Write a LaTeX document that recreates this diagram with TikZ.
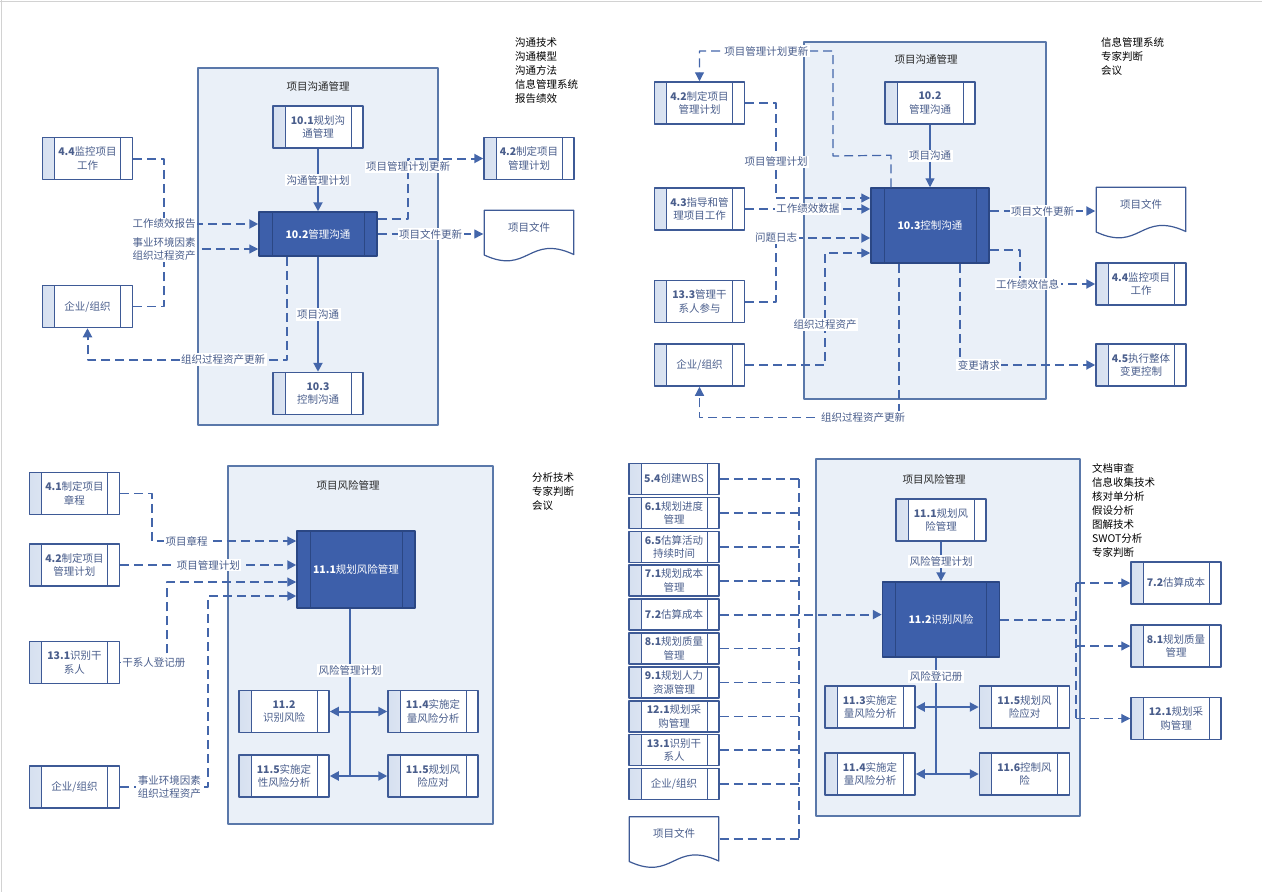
\documentclass[tikz,border=0pt]{standalone}
\usepackage{fontspec}
\setmainfont{Noto Sans CJK SC}
\usetikzlibrary{arrows.meta,positioning}
\definecolor{boxline}{HTML}{3E5A96}
\definecolor{boxtext}{HTML}{4A5E8C}
\definecolor{strip}{HTML}{D6E0F0}
\definecolor{darkfill}{HTML}{3D5FAA}
\definecolor{darkline}{HTML}{2B4784}
\definecolor{framefill}{HTML}{EAF0F8}
\definecolor{framedraw}{HTML}{5A78AA}
\definecolor{conn}{HTML}{4466AA}
\tikzset{
  proc/.style={draw=boxline, line width=1.5pt, fill=white, minimum width=90pt, minimum height=42pt, inner sep=1pt, align=center, text=boxtext,
    path picture={
      \fill[left color=strip, right color=white] (path picture bounding box.south west) rectangle ([xshift=12pt]path picture bounding box.north west);
      \draw[boxline, line width=1pt] ([xshift=12pt]path picture bounding box.south west) -- ([xshift=12pt]path picture bounding box.north west)
        ([xshift=-12pt]path picture bounding box.south east) -- ([xshift=-12pt]path picture bounding box.north east);}},
  procsm/.style={proc, minimum height=31pt},
  procdark/.style={proc, fill=darkfill, draw=darkline, text=white,
    path picture={
      \draw[darkline, line width=1pt] ([xshift=13pt]path picture bounding box.south west) -- ([xshift=13pt]path picture bounding box.north west)
        ([xshift=-13pt]path picture bounding box.south east) -- ([xshift=-13pt]path picture bounding box.north east);}},
  docnode/.style={minimum width=91pt, minimum height=53pt, inner sep=0pt, text=boxtext, text depth=18pt,
    path picture={
      \filldraw[draw=boxline, fill=white, line width=1.2pt] ([shift={(0.7pt,-0.7pt)}]path picture bounding box.north west) -- ([shift={(-0.7pt,-0.7pt)}]path picture bounding box.north east)
        -- ([shift={(-0.7pt,8pt)}]path picture bounding box.south east) .. controls ([shift={(45pt,29pt)}]path picture bounding box.south west) and ([shift={(45pt,-13pt)}]path picture bounding box.south west) .. ([shift={(0.7pt,7.5pt)}]path picture bounding box.south west) -- cycle;}},
  frame/.style={draw=framedraw, line width=1.3pt, fill=framefill},
  ttl/.style={text=black!85},
  tools/.style={anchor=north west, align=left, inner sep=0pt, font=\fontsize{10.5}{14}\selectfont},
  lbl/.style={fill=white, inner sep=1.5pt, text=boxtext, align=center},
  flow/.style={draw=conn, line width=1.2pt},
  flowb/.style={draw=conn, line width=2pt},
  dflow/.style={flow, dash pattern=on 9pt off 5pt},
  dflowb/.style={flowb, dash pattern=on 9pt off 5pt}
}
\begin{document}
\begin{tikzpicture}[x=1pt,y=-1pt,font=\fontsize{10.5}{13.5}\selectfont,line join=round,>={Triangle[length=9pt,width=9pt]}]
\useasboundingbox (0,0) rectangle (1262,892);
\draw[gray!35] (0,1) -- (1262,1) (1,0) -- (1,892);
\foreach \a/\b/\c/\d in {198/68/438/425, 804/42/1046/399, 228/466/493/824, 816/459/1080/816}
  \draw[frame] (\a,\b) rectangle (\c,\d);
\node[ttl] (t1) at (318,86) {项目沟通管理};
\node[ttl] (t2) at (926,59) {项目沟通管理};
\node[ttl] (t3) at (348,485) {项目风险管理};
\node[ttl] (t4) at (934,479) {项目风险管理};
\node[tools] (k1) at (515,37.5) {沟通技术\\沟通模型\\沟通方法\\信息管理系统\\报告绩效};
\node[tools] (k2) at (1101,37.5) {信息管理系统\\专家判断\\会议};
\node[tools] (k3) at (532,472.5) {分析技术\\专家判断\\会议};
\node[tools] (k4) at (1092,463.5) {文档审查\\信息收集技术\\核对单分析\\假设分析\\图解技术\\SWOT分析\\专家判断};

\node[proc] (a101) at (318,127) {\textbf{10.1}规划沟\\通管理};
\node[proc] (a44) at (87.5,158.5) {\textbf{4.4}监控项目\\工作};
\node[proc] (a42) at (529,158.5) {\textbf{4.2}制定项目\\管理计划};
\node[procdark, minimum width=118pt, minimum height=44pt] (a102) at (318,234) {\textbf{10.2}管理沟通};
\node[docnode] (adoc) at (529,236) {项目文件};
\node[proc] (aorg) at (87.5,306.5) {企业/组织};
\node[proc] (a103) at (318,393.5) {\textbf{10.3}\\控制沟通};
\draw[flowb,->] (a101) -- node[lbl]{沟通管理计划} (a102);
\draw[dflowb,->] (a44.east) -- (164,158.5) |- node[lbl,pos=0.5]{工作绩效报告} ([yshift=10pt]a102.west);
\draw[dflow,->] (aorg.east) -- (164,306.5) |- node[lbl,pos=0.5]{事业环境因素\\组织过程资产} ([yshift=-15pt]a102.west);
\draw[dflowb,->] ([yshift=15pt]a102.east) -- (408,219) |- node[lbl,pos=0.43]{项目管理计划更新} (a42.west);
\draw[dflow,->] (a102.east) -- node[lbl]{项目文件更新} (a102.east -| adoc.west);
\draw[flowb,->] (a102) -- node[lbl]{项目沟通} (a103);
\draw[dflowb,->] ([xshift=-31pt]a102.south) -- ++(0,103) -| node[lbl,pos=0.16]{组织过程资产更新} (aorg.south);

\node[proc] (b42) at (699.5,103) {\textbf{4.2}制定项目\\管理计划};
\node[proc] (b43) at (699.5,209) {\textbf{4.3}指导和管\\理项目工作};
\node[proc] (b133) at (699.5,301.5) {\textbf{13.3}管理干\\系人参与};
\node[proc] (borg) at (699.5,365) {企业/组织};
\node[proc] (b102) at (930,103) {\textbf{10.2}\\管理沟通};
\node[procdark, minimum width=118pt, minimum height=75pt] (b103) at (930,225.5) {\textbf{10.3}控制沟通};
\node[docnode] (bdoc) at (1141,213) {项目文件};
\node[proc] (b44) at (1141,284) {\textbf{4.4}监控项目\\工作};
\node[proc] (b45) at (1141,365) {\textbf{4.5}执行整体\\变更控制};
\draw[flow,->] (b102) -- node[lbl]{项目沟通} (b103);
\draw[dflow,->] ([xshift=-39pt]b103.north) -- ++(0,-32) -- (833,156) -- (833,51) -| node[lbl,pos=0.25]{项目管理计划更新} (b42.north);
\draw[dflow,->] (b42.east) -- (776,103) |- node[lbl,pos=0.31]{项目管理计划} ([yshift=27.5pt]b103.west);
\draw[dflowb,->] (b43.east) -- node[lbl]{工作绩效数据} (b43.east -| b103.west);
\draw[dflowb,->] (b133.east) -- (776,301.5) |- node[lbl,pos=0.5]{问题日志} ([yshift=-12.5pt]b103.west);
\draw[dflow,->] (borg.east) -- (825,365) |- node[lbl,pos=0.18]{组织过程资产} ([yshift=-27.5pt]b103.west);
\draw[dflowb,->] ([yshift=14.5pt]b103.east) -- node[lbl]{项目文件更新} ([yshift=14.5pt]b103.east -| bdoc.west);
\draw[dflowb,->] ([yshift=-24.5pt]b103.east) -- (1020,250) |- node[lbl,pos=0.55]{工作绩效信息} (b44.west);
\draw[dflowb,->] ([xshift=30pt]b103.south) |- node[lbl,pos=0.57]{变更请求} (b45.west);
\draw[dflow,->] ([xshift=-31pt]b103.south) -- ++(0,154) -| node[lbl,pos=0.09]{组织过程资产更新} (borg.south);

\node[proc] (c41) at (74.5,493.5) {\textbf{4.1}制定项目\\章程};
\node[proc] (c42) at (74.5,565) {\textbf{4.2}制定项目\\管理计划};
\node[proc] (c131) at (74.5,662.5) {\textbf{13.1}识别干\\系人};
\node[proc] (corg) at (74.5,787) {企业/组织};
\node[procdark, minimum width=118pt, minimum height=77pt] (c111) at (356,569.5) {\textbf{11.1}规划风险管理};
\node[proc] (c112) at (284,711.5) {\textbf{11.2}\\识别风险};
\node[proc] (c114) at (433,711.5) {\textbf{11.4}实施定\\量风险分析};
\node[proc] (c115) at (284,776) {\textbf{11.5}实施定\\性风险分析};
\node[proc] (c115r) at (433,776) {\textbf{11.5}规划风\\险应对};
\coordinate (cj) at (350,776);
\draw[dflow,->] (c41.east) -- (152,493.5) |- node[lbl,pos=0.62]{项目章程} ([yshift=28.5pt]c111.west);
\draw[dflowb,->] (c42.east) -- node[lbl]{项目管理计划} (c42.east -| c111.west);
\draw[dflow,->] (c131.east) -- node[lbl,pos=0.72]{干系人登记册} (167,662.5) |- ([yshift=-12.5pt]c111.west);
\draw[dflowb,->] (corg.east) -- node[lbl,pos=0.56]{事业环境因素\\组织过程资产} (208,787) |- ([yshift=-26.5pt]c111.west);
\draw[flow] ([xshift=-6pt]c111.south) -- node[lbl,pos=0.37]{风险管理计划} (cj);
\draw[flowb,<->] (c112.east) -- (c114.west);
\draw[flowb,<->] (c115.east) -- (c115r.west);

\foreach \t/\s [count=\i from 0] in {{\textbf{5.4}创建WBS}/dflow, {\textbf{6.1}规划进度\\管理}/dflowb, {\textbf{6.5}估算活动\\持续时间}/dflowb, {\textbf{7.1}规划成本\\管理}/dflowb, {\textbf{7.2}估算成本}/dflowb, {\textbf{8.1}规划质量\\管理}/dflow, {\textbf{9.1}规划人力\\资源管理}/dflow, {\textbf{12.1}规划采\\购管理}/dflow, {\textbf{13.1}识别干\\系人}/dflowb, {企业/组织}/dflowb}{
  \node[procsm] (d\i) at (674,479+33.9*\i) {\t};
  \draw[\s] (d\i.east) -- (799,479+33.9*\i);
}
\node[docnode] (ddoc) at (674,842.5) {项目文件};
\coordinate (dbt) at (799,479);
\coordinate (dbb) at (799,839);
\draw[dflow] (dbt) -- (dbb);
\draw[dflow] (ddoc.east |- dbb) -- (dbb);
\node[proc] (d111) at (941,520) {\textbf{11.1}规划风\\险管理};
\node[procdark, minimum width=117pt, minimum height=75pt] (d112) at (941,619.5) {\textbf{11.2}识别风险};
\node[proc] (d113) at (870,707) {\textbf{11.3}实施定\\量风险分析};
\node[proc] (d115) at (1024.5,707) {\textbf{11.5}规划风\\险应对};
\node[proc] (d114) at (870,774) {\textbf{11.4}实施定\\量风险分析};
\node[proc] (d116) at (1024.5,774) {\textbf{11.6}控制风\\险};
\node[proc] (d72) at (1176,583) {\textbf{7.2}估算成本};
\node[proc] (d81) at (1176,646) {\textbf{8.1}规划质量\\管理};
\node[proc] (d121) at (1176,718.5) {\textbf{12.1}规划采\\购管理};
\coordinate (dj) at (936,774);
\coordinate (drt) at (1076,583);
\coordinate (drb) at (1076,718.5);
\draw[dflowb,->] (d4.east) -- (d4.east -| d112.west);
\draw[flowb,->] (d111) -- node[lbl]{风险管理计划} (d112);
\draw[flowb] ([xshift=-5pt]d112.south) -- node[lbl,pos=0.16]{风险登记册} (dj);
\draw[flowb,<->] (d113.east) -- (d115.west);
\draw[flowb,<->] (d114.east) -- (d116.west);
\draw[dflowb] (drt) -- (drb);
\draw[dflowb] (d112.east) -- (d112.east -| drt);
\foreach \n in {d72,d81,d121} \draw[dflow,->] (\n.west -| drt) -- (\n.west);
\end{tikzpicture}
\end{document}
